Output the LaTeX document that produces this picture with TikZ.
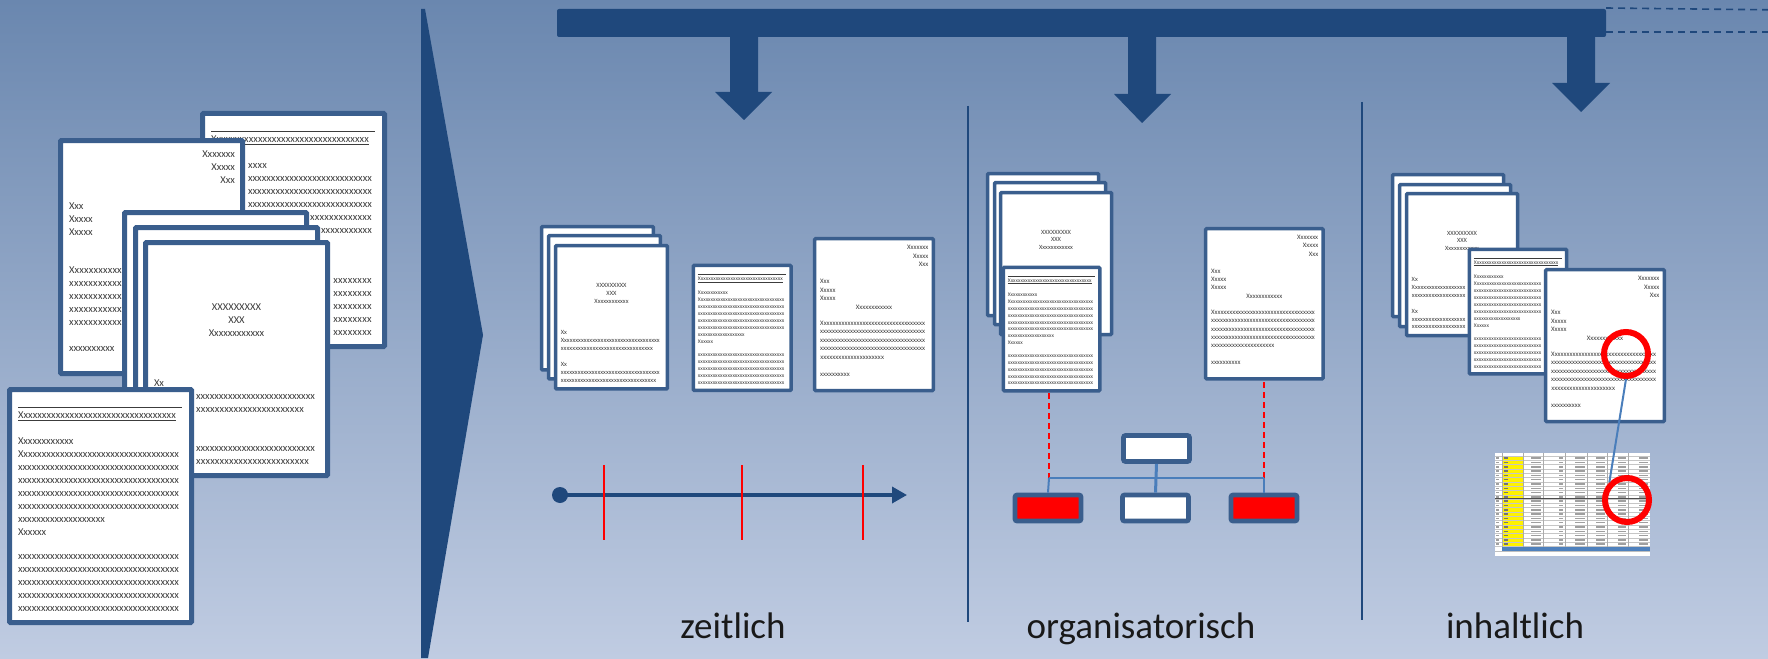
\documentclass[tikz,border=0pt]{standalone}
\usepackage{fontspec}
\setmainfont{Carlito}
\newfontfamily\docf{Carlito}
\usetikzlibrary{arrows.meta}
\definecolor{bgtop}{RGB}{106,135,175}
\definecolor{bgbot}{RGB}{192,204,226}
\definecolor{dblue}{RGB}{31,72,124}
\definecolor{doccol}{RGB}{58,94,141}
\definecolor{lblue}{RGB}{74,126,187}
\definecolor{doctext}{RGB}{60,60,60}
\definecolor{xlblue}{RGB}{79,129,189}
\newcounter{dln}
\tikzset{
  dl/.style={anchor=base west, inner sep=0pt, outer sep=0pt,
    font=\docf\fontsize{10.5}{12}\selectfont, text=doctext, transform shape,
    /utils/exec={\stepcounter{dln}}, name=dl\arabic{dln}},
  dlr/.style={dl, anchor=base east},
  dlc/.style={dl, anchor=base},
  docrule/.style={draw=doctext, line width=0.9pt},
  orgbox/.style={draw=doccol, line width=4.7pt, minimum width=66pt, minimum height=26pt,
    inner sep=0pt, rounded corners=2pt, fill=white},
  conn/.style={draw=lblue, line width=2pt},
  reddash/.style={draw=red, line width=2.3pt, dash pattern=on 6pt off 4pt},
  ring/.style={circle, draw=red, line width=6pt, minimum size=44pt, inner sep=0pt},
  lab/.style={anchor=base, inner sep=0pt, font=\fontsize{37}{40}\selectfont, text=black!90},
}
\newcommand\capw{161}
\newcommand\xf[2]{\hbox to #1pt{#2\xleaders\hbox{x}\hfill}}
\newcommand\docln[3]{\node[dl] at (11,#1) {\xf{\fpeval{min(#2,\capw)}}{#3}};}
\newcommand\doclnx[4]{\node[dl] at (#1,#2) {\xf{#3}{#4}};}
\newcommand\docpage[5]{%
  \begin{scope}[shift={(#1,#2)}, scale=#3, transform shape]
    \path[draw=doccol, fill=white, line width=#4, rounded corners=1pt] (2.5,2.5) rectangle (184.5,235.5);
    #5
  \end{scope}}
\newcommand\contRtop{%
  \draw[docrule] (11,20) -- (175,20);
  \node[dl] at (11,31.5) {$\underline{\xf{158}{X}}$};}
\newcommand\contR{%
  \contRtop
  \node[dl] at (11,57.5) {Xxxxxxxxxxxx};
  \docln{70.5}{161}{X}
  \docln{83.5}{161}{}
  \docln{96.5}{161}{}
  \docln{109.5}{161}{}
  \docln{122.5}{161}{}
  \docln{135.5}{87}{}
  \node[dl] at (11,148.5) {Xxxxxx};
  \docln{172.5}{161}{}
  \docln{185.5}{161}{}
  \docln{198.5}{161}{}
  \docln{211.5}{161}{}
  \docln{224.5}{161}{}}
\newcommand\contLtop{%
  \node[dlr] at (177,19.5) {Xxxxxxx};
  \node[dlr] at (177,32.5) {Xxxxx};
  \node[dlr] at (177,45.5) {Xxx};
  \node[dl] at (11,71.5) {Xxx};
  \node[dl] at (11,84.5) {Xxxxx};
  \node[dl] at (11,97.5) {Xxxxx};}
\newcommand\contL{%
  \contLtop
  \node[dlc] at (93.5,110.5) {Xxxxxxxxxxxx};
  \docln{135.5}{161}{X}
  \docln{148.5}{161}{}
  \docln{161.5}{161}{}
  \docln{174.5}{161}{}
  \docln{187.5}{98}{}
  \node[dl] at (11,213.5) {xxxxxxxxxx};}
\newcommand\contTtop{%
  \node[dlc] at (93.5,70.5) {XXXXXXXXX};
  \node[dlc] at (93.5,83.5) {XXX};
  \node[dlc] at (93.5,96.5) {Xxxxxxxxxxxx};}
\newcommand\contT{%
  \contTtop
  \node[dl] at (11,146.5) {Xx};
  \docln{159.5}{161}{X}
  \docln{172.5}{150}{}
  \node[dl] at (11,198.5) {Xx};
  \docln{211.5}{161}{}
  \docln{224.5}{155}{}}
\begin{document}
\begin{tikzpicture}[x=1pt,y=-1pt]
\useasboundingbox (0,0) rectangle (1768,658);
\fill[top color=bgtop, bottom color=bgbot] (0,0) rectangle (1768,658);

% wedge
\fill[dblue] (421,9) -- (425,9) -- (483,335) -- (428,658) -- (421,658) -- cycle;

% top bar and arrows
\node[fill=dblue, minimum width=1049pt, minimum height=28pt, inner sep=0pt, rounded corners=2pt] (bar) at (1081.5,23) {};
\fill[dblue] (730,36) -- (758,36) -- (758,92) -- (772,92) -- (744,120) -- (715,92) -- (730,92) -- cycle;
\fill[dblue] (1128,36) -- (1156,36) -- (1156,94) -- (1171,94) -- (1142,123) -- (1114,94) -- (1128,94) -- cycle;
\fill[dblue] (1567,36) -- (1595,36) -- (1595,83) -- (1610,83) -- (1581,112) -- (1552,83) -- (1567,83) -- cycle;
\coordinate (d1) at (1768,9.8);
\coordinate (d2a) at (1606,32);
\coordinate (d2) at (1768,32);
\draw[dblue, line width=1.6pt, dash pattern=on 7pt off 5pt] (bar.north east) ++(0,-0.8) -- (d1);
\draw[dblue, line width=1.6pt, dash pattern=on 7pt off 5pt] (d2a) -- (d2);

% separators
\coordinate (s1a) at (968,106); \coordinate (s1b) at (968,622);
\coordinate (s2a) at (1362,102); \coordinate (s2b) at (1362,620);
\draw[dblue, line width=1.5pt] (s1a) -- (s1b);
\draw[dblue, line width=1.5pt] (s2a) -- (s2b);

% left documents (only visible parts of covered text are set)
\docpage{200}{111}{1}{5pt}{%
  \contRtop
  \doclnx{48}{57.5}{19}{}
  \doclnx{48}{70.5}{124}{}
  \doclnx{48}{83.5}{124}{}
  \doclnx{48}{96.5}{124}{}
  \doclnx{110}{109.5}{62}{}
  \doclnx{121}{122.5}{51}{}
  \doclnx{133}{172.5}{39}{}
  \doclnx{133}{185.5}{39}{}
  \doclnx{133}{198.5}{39}{}
  \doclnx{133}{211.5}{39}{}
  \doclnx{133}{224.5}{39}{}}
\docpage{58}{138}{1}{5pt}{%
  \contLtop
  \doclnx{11}{135.5}{53}{X}
  \doclnx{11}{148.5}{53}{}
  \doclnx{11}{161.5}{53}{}
  \doclnx{11}{174.5}{53}{}
  \doclnx{11}{187.5}{53}{}
  \node[dl] at (11,213.5) {xxxxxxxxxx};}
\docpage{122}{210}{1}{5pt}{}
\docpage{133}{225}{1}{5pt}{}
\docpage{143}{240}{1}{5pt}{%
  \contTtop
  \node[dl] at (11,146.5) {Xx};
  \doclnx{53}{159.5}{119}{}
  \doclnx{53}{172.5}{108}{}
  \doclnx{53}{211.5}{119}{}
  \doclnx{53}{224.5}{113}{}}
\docpage{7}{387}{1}{5pt}{\contR}

% zeitlich
\docpage{540}{225}{0.615}{3.5pt}{}
\docpage{547}{234}{0.615}{3.5pt}{}
\docpage{554}{244}{0.615}{3.5pt}{\contT}
\docpage{692}{264}{0.537}{3.5pt}{\contR}
\docpage{813}{237}{0.652}{3.5pt}{\contL}

\node[circle, fill=dblue, minimum size=16pt, inner sep=0pt] (t0) at (560,495) {};
\coordinate (t1) at (907,495);
\draw[dblue, line width=3.5pt, -{Triangle[length=15pt, width=16pt]}] (t0.center) -- (t1);
\foreach \tx in {604,742,863} {\draw[red, line width=2.2pt] (\tx,465) -- (\tx,540);}

% organisatorisch
\docpage{986}{172}{0.61}{3.5pt}{}
\docpage{993}{181}{0.61}{3.5pt}{}
\docpage{999}{191}{0.61}{3.5pt}{\contTtop}
\docpage{1002}{266}{0.53}{3.5pt}{\contR}
\docpage{1204}{227}{0.645}{3.5pt}{\contL}

\node[orgbox] (ot) at (1156.5,448.5) {};
\node[orgbox, fill=red] (obl) at (1048,508) {};
\node[orgbox] (obm) at (1155.5,508) {};
\node[orgbox, fill=red] (obr) at (1264,508) {};
\coordinate (od1) at (1049,393); \coordinate (od2) at (1264,382);
\coordinate (oj1) at (1049,478); \coordinate (oj2) at (1264,478);
\draw[reddash] (od1) -- (oj1);
\draw[reddash] (od2) -- (oj2);
\draw[conn, line width=3pt] (ot.south) -- (obm.north);
\draw[conn] (oj1) -- (oj2);
\draw[conn] (oj1) -- (obl.north);
\draw[conn] (oj2) -- (obr.north);

% inhaltlich
\docpage{1391}{173}{0.61}{3.5pt}{}
\docpage{1398}{183}{0.61}{3.5pt}{}
\docpage{1405}{192}{0.61}{3.5pt}{\renewcommand\capw{88}\contT}
\docpage{1468}{248}{0.535}{3.5pt}{\renewcommand\capw{126}\contR}
\docpage{1544}{268}{0.652}{3.5pt}{\contL}

% spreadsheet
\fill[white] (1495,453) rectangle (1650,556);
\fill[yellow] (1502,456) rectangle (1523,546);
\foreach \r in {0,...,21} {\draw[gray!45, line width=0.4pt] (1495,{456+4.3*\r}) -- (1650,{456+4.3*\r});}
\foreach \c in {1502,1523,1543,1565,1587,1607,1628} {\draw[gray!65, line width=0.6pt] (\c,453) -- (\c,547);}
\draw[gray!60!black, line width=0.8pt] (1495,498) -- (1650,498);
\foreach \r in {0,...,20} {
  \fill[black!55] (1503.5,{456+4.3*\r+1.4}) rectangle (1508,{456+4.3*\r+2.9});
  \fill[gray!75] (1495.8,{456+4.3*\r+1.4}) rectangle (1498.5,{456+4.3*\r+2.9});
  \foreach \c/\w in {1543/10,1565/4,1587/10,1607/9,1628/8,1650/9} {
    \fill[gray!75] ({\c-1.8-\w},{456+4.3*\r+1.4}) rectangle ({\c-1.8},{456+4.3*\r+2.9});}
}
\fill[xlblue] (1502,547) rectangle (1650,551.5);
\draw[gray!50, line width=0.4pt] (1495,551.5) -- (1650,551.5);

\node[ring] (c1) at (1626,354) {};
\node[ring] (c2) at (1627,500) {};
\draw[conn] (c1.south) -- (c2.135);

% labels
\node[lab] (lz) at (733,638) {zeitlich};
\node[lab] (lo) at (1141,638) {organisatorisch};
\node[lab] (li) at (1515,638) {inhaltlich};
\end{tikzpicture}
\end{document}
